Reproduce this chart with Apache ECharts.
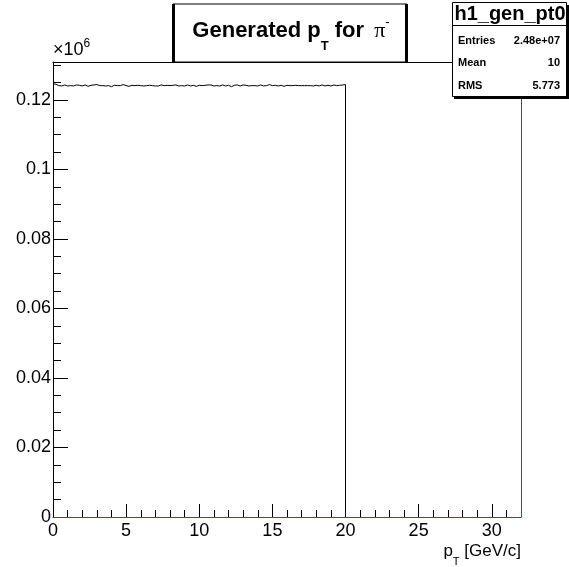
<!DOCTYPE html>
<html><head><meta charset="utf-8">
<script src="https://cdn.jsdelivr.net/npm/echarts@6/dist/echarts.min.js"></script>
<style>html,body{margin:0;padding:0;background:#fff}#c{width:569px;height:567px}</style>
</head><body><div id="c"></div>
<script>
// Histogram h1_gen_pt0: 200 bins of 0.1 GeV/c from 0 to 20
const binStart = 0;
const binWidth = 0.1;
const counts = [
124600,124500,124300,124100,124200,124000,124100,124300,124200,124000,123900,124100,124200,124000,124100,124300,124400,124200,124100,124000,
124200,124300,124100,123900,124000,124200,124100,124300,124500,124400,124200,124100,124000,124100,123900,124000,124200,124100,124000,123800,
124000,124200,124300,124100,124000,124100,124200,124400,124300,124100,124000,123900,124100,124200,124000,124100,124300,124200,124000,124100,
123900,124000,124200,124100,124300,124200,124000,124100,124200,124000,123800,124000,124100,124300,124200,124100,124000,124200,124300,124100,
124000,124200,124400,124300,124100,124000,124200,124100,123900,124000,124100,124300,124200,124000,124100,124200,124000,123900,124100,124200,
124300,124100,124000,124200,124100,124300,124500,124300,124100,124000,124200,124100,123900,124000,124200,124300,124100,124000,124100,124200,
124000,123800,124000,124200,124100,124300,124200,124000,124100,124300,124400,124200,124100,124000,124200,124100,123900,124100,124200,124000,
124100,124300,124200,124000,123900,124100,124200,124400,124300,124100,124000,124200,124100,124000,124300,124200,124100,123900,124000,124200,
124200,124100,124000,124100,124300,124200,124000,124100,124200,124100,124100,124100,124000,124100,124200,124100,124100,124000,124100,124200,
124100,124000,124200,124300,124100,124000,124100,124200,124100,124000,124100,124300,124200,124100,124000,124200,124100,124300,124200,124400
];
const xRange = [0, 32];
const yMax = 130900;
const statName = 'h1_gen_pt0';
const statRows = [['Entries', '2.48e+07'], ['Mean', '10'], ['RMS', '5.773']];

const FONT = 'Liberation Sans';
const stepData = counts.map((v, i) => [+(binStart + i * binWidth).toFixed(4), v]);
const lastEdge = +(binStart + counts.length * binWidth).toFixed(4);
stepData.push([lastEdge, counts[counts.length - 1]]);
stepData.push([lastEdge, 0]);

const chart = echarts.init(document.getElementById('c'), null, {renderer: 'canvas'});
const G = {left: 53, right: 48, top: 62, bottom: 50};
const statRowY = [41, 63, 86];
const noLbl = {show: false};

chart.setOption({
  animation: false,
  backgroundColor: '#fff',
  grid: {left: G.left, right: G.right, top: G.top, bottom: G.bottom, show: false},
  xAxis: [
    {type: 'value', min: xRange[0], max: xRange[1], interval: 5, position: 'bottom', z: 6,
     axisLine: {show: true, onZero: false, lineStyle: {color: '#ff0000', width: 1}},
     axisTick: {show: true, inside: true, length: 13, lineStyle: {color: '#000'}},
     axisLabel: {show: true, showMaxLabel: false, color: '#000', fontSize: 18, fontFamily: FONT, margin: 5},
     splitLine: {show: false}},
    {type: 'value', min: xRange[0], max: xRange[1], interval: 1, position: 'bottom', offset: 0, z: 4,
     axisLine: {show: false, onZero: false}, axisTick: {show: true, inside: true, length: 7, lineStyle: {color: '#000'}},
     axisLabel: noLbl, splitLine: {show: false}},
    {type: 'value', min: xRange[0], max: xRange[1], position: 'top', offset: 0, z: 4,
     axisLine: {show: true, onZero: false, lineStyle: {color: '#000', width: 1}}, axisTick: {show: false},
     axisLabel: noLbl, splitLine: {show: false}}
  ],
  yAxis: [
    {type: 'value', min: 0, max: yMax, interval: 20000, position: 'left', z: 4,
     axisLine: {show: true, onZero: false, lineStyle: {color: '#000', width: 1}},
     axisTick: {show: true, inside: true, length: 15, lineStyle: {color: '#000'}},
     axisLabel: {show: true, showMaxLabel: false, color: '#000', fontSize: 18, fontFamily: FONT, margin: 2,
       formatter: v => v === 0 ? '0' : String(+(v / 1e6).toFixed(4))},
     splitLine: {show: false}},
    {type: 'value', min: 0, max: yMax, interval: 5000, position: 'left', offset: 0, z: 4,
     axisLine: {show: false, onZero: false}, axisTick: {show: true, inside: true, length: 8, lineStyle: {color: '#000'}},
     axisLabel: noLbl, splitLine: {show: false}},
    {type: 'value', min: 0, max: yMax, position: 'right', offset: 0, z: 6,
     axisLine: {show: true, onZero: false, lineStyle: {color: '#ff0000', width: 1}}, axisTick: {show: false},
     axisLabel: noLbl, splitLine: {show: false}}
  ],
  series: [{
    type: 'line', step: 'end', xAxisIndex: 0, yAxisIndex: 0, data: stepData,
    symbol: 'none', lineStyle: {color: '#000', width: 1}, z: 5
  }],
  graphic: [
    // title pave
    {type: 'rect', shape: {x: 173, y: 4, width: 234, height: 58}, style: {fill: '#fff', stroke: '#000', lineWidth: 1}, z: 10},
    {type: 'rect', shape: {x: 172, y: 4, width: 3, height: 58}, style: {fill: '#000'}, z: 11},
    {type: 'rect', shape: {x: 405, y: 4, width: 3, height: 58}, style: {fill: '#000'}, z: 11},
    {type: 'text', x: 291, y: 31, z: 12, style: {
      text: '{m|Generated p}{s|T}{m| for }{pi|π}{sup|-}',
      align: 'center', verticalAlign: 'middle',
      rich: {
        m: {fontSize: 22, fontWeight: 'bold', fontFamily: FONT, fill: '#000', lineHeight: 44},
        s: {fontSize: 13, fontWeight: 'bold', fontFamily: FONT, fill: '#000', lineHeight: 16, verticalAlign: 'bottom'},
        pi: {fontSize: 22, fontFamily: 'Liberation Serif', fill: '#000', lineHeight: 44, padding: [0, 0, 0, 4]},
        sup: {fontSize: 13, fontFamily: FONT, fill: '#000', lineHeight: 13, verticalAlign: 'top', padding: [7, 0, 0, 0]}
      }}},
    // stat box
    {type: 'rect', shape: {x: 454, y: 5, width: 115, height: 94}, style: {fill: '#000'}, z: 10},
    {type: 'rect', shape: {x: 452.5, y: 2.5, width: 114, height: 94}, style: {fill: '#fff', stroke: '#000', lineWidth: 1}, z: 11},
    {type: 'line', shape: {x1: 452.5, y1: 25.5, x2: 566.5, y2: 25.5}, style: {stroke: '#000', lineWidth: 1}, z: 12},
    {type: 'text', x: 510, y: 14, z: 12, style: {text: statName, align: 'center', verticalAlign: 'middle', fontSize: 20, fontWeight: 'bold', fontFamily: FONT, fill: '#000'}},
    ...statRows.map((r, i) => ({type: 'text', x: 458, y: statRowY[i], z: 12, style: {text: r[0], align: 'left', verticalAlign: 'middle', fontSize: 11, fontWeight: 'bold', fontFamily: FONT, fill: '#000'}})),
    ...statRows.map((r, i) => ({type: 'text', x: 560, y: statRowY[i], z: 12, style: {text: r[1], align: 'right', verticalAlign: 'middle', fontSize: 11, fontWeight: 'bold', fontFamily: FONT, fill: '#000'}})),
    // x10^6 exponent
    {type: 'text', x: 53, y: 50, z: 12, style: {text: '{m|×10}{sup|6}', align: 'left', verticalAlign: 'middle',
      rich: {m: {fontSize: 18, fontFamily: FONT, fill: '#000', lineHeight: 24},
             sup: {fontSize: 12, fontFamily: FONT, fill: '#000', lineHeight: 12, verticalAlign: 'top'}}}},
    // x-axis title
    {type: 'text', x: 521, y: 551, z: 12, style: {text: '{m|p}{s|T}{m| [GeV/c]}', align: 'right', verticalAlign: 'middle',
      rich: {m: {fontSize: 17, fontFamily: FONT, fill: '#000', lineHeight: 32},
             s: {fontSize: 11, fontFamily: FONT, fill: '#000', lineHeight: 11, verticalAlign: 'bottom'}}}}
  ]
});
</script></body></html>
